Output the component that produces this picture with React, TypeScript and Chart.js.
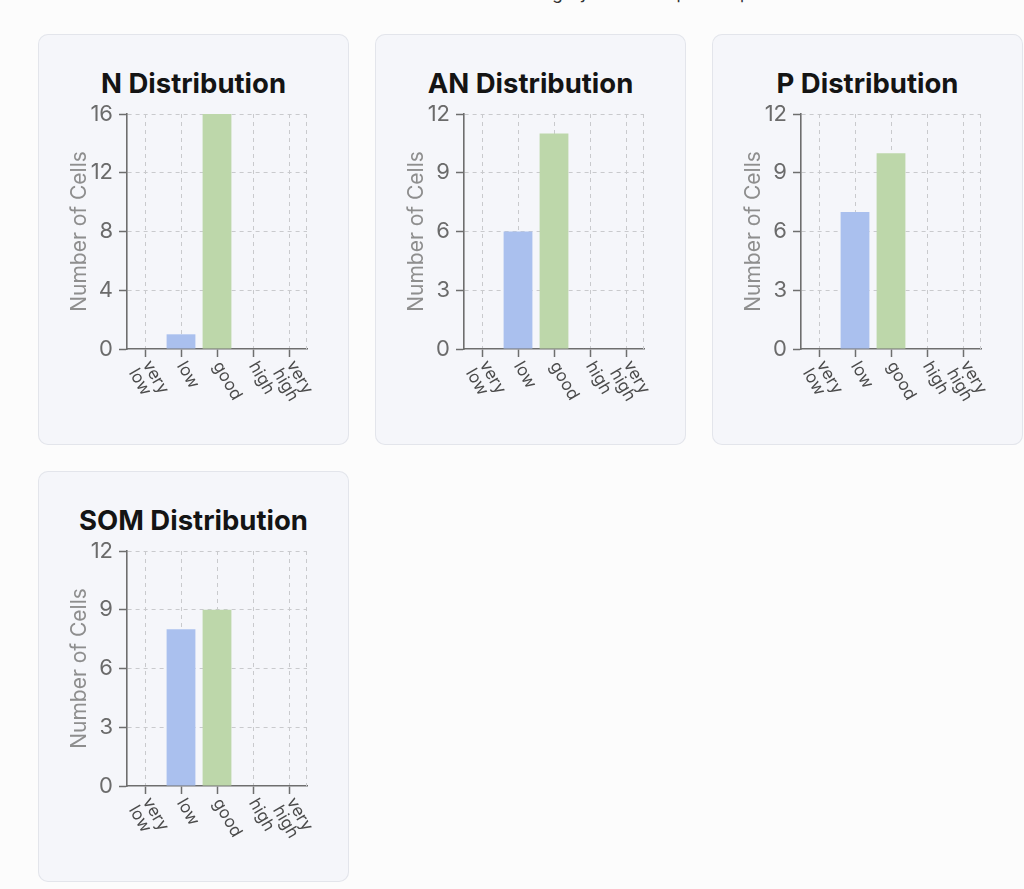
import React, { useEffect, useRef } from 'react';
import { Chart, registerables } from 'chart.js';

Chart.register(...registerables);
Chart.defaults.font.family = 'Inter, "Noto Sans", sans-serif';

// Category levels shared by every parameter (multi-line labels)
const categories: string[][] = [['very', 'low'], ['low'], ['good'], ['high'], ['very', 'high']];
const categoryColors = ['#e8a6a6', '#aac0ee', '#bdd7aa', '#f1d08e', '#d5aade'];

// Cell counts per category
const nCounts = [0, 1, 16, 0, 0];
const anCounts = [0, 6, 11, 0, 0];
const pCounts = [0, 7, 10, 0, 0];
const somCounts = [0, 8, 9, 0, 0];

// Panel titles and y-axis ranges
const panelTitles = ['N Distribution', 'AN Distribution', 'P Distribution', 'SOM Distribution'];
const yMaxes = [16, 12, 12, 12];
const ySteps = [4, 3, 3, 3];

const panelCounts = [nCounts, anCounts, pCounts, somCounts];

const AXIS = '#6e6e6e';
const GRID = '#c9cacd';
const DASH = [4, 4];

// Draws the slanted category labels under the x axis and closes the grid on the right.
const slantedLabels = {
  id: 'slantedLabels',
  beforeDatasetsDraw(chart: any) {
    const { ctx, chartArea } = chart;
    ctx.save();
    ctx.strokeStyle = GRID;
    ctx.lineWidth = 1;
    ctx.setLineDash(DASH);
    ctx.beginPath();
    ctx.moveTo(chartArea.right - 0.5, chartArea.top);
    ctx.lineTo(chartArea.right - 0.5, chartArea.bottom);
    ctx.stroke();
    ctx.restore();
  },
  afterDraw(chart: any) {
    const xScale = chart.scales.x;
    const ctx = chart.ctx as CanvasRenderingContext2D;
    const labels = chart.data.labels as (string | string[])[];
    const lineH = 16;
    ctx.save();
    ctx.font = '17px Inter, "Noto Sans", sans-serif';
    ctx.fillStyle = '#4b4b4b';
    ctx.textAlign = 'left';
    ctx.textBaseline = 'middle';
    labels.forEach((lab, i) => {
      const lines = Array.isArray(lab) ? lab : [lab];
      const px = xScale.getPixelForTick(i);
      const py = xScale.top + 8 + 6;
      ctx.save();
      ctx.translate(px, py);
      ctx.rotate(Math.PI / 3);
      lines.forEach((ln, j) => {
        const dy = (j - (lines.length - 1) / 2) * lineH + (lines.length - 1) * 6;
        ctx.fillText(ln, 0, dy);
      });
      ctx.restore();
    });
    ctx.restore();
  },
};

function DistributionChart({ counts, max, step }: { counts: number[]; max: number; step: number }) {
  const ref = useRef<HTMLCanvasElement | null>(null);

  useEffect(() => {
    if (!ref.current) return;
    const chart = new Chart(ref.current, {
      type: 'bar',
      data: {
        labels: categories,
        datasets: [
          {
            data: counts,
            backgroundColor: categoryColors,
            borderWidth: 0,
            barPercentage: 0.8,
            categoryPercentage: 1,
          },
        ],
      },
      options: {
        responsive: false,
        animation: false,
        layout: { padding: { top: 80, right: 42, bottom: 0, left: 0 } },
        plugins: {
          legend: { display: false },
          tooltip: { enabled: false },
          title: { display: false },
        },
        scales: {
          x: {
            type: 'category',
            offset: true,
            grid: {
              offset: false,
              color: GRID,
              tickColor: AXIS,
              tickLength: 8,
              tickWidth: 1.5,
              tickBorderDash: [],
            },
            border: { color: AXIS, width: 1.6, dash: DASH },
            ticks: { display: false },
            afterFit: (s: any) => {
              s.height = 96;
            },
          },
          y: {
            min: 0,
            max,
            grid: {
              color: (c: any) => (c.tick && c.tick.value === 0 ? 'rgba(0,0,0,0)' : GRID),
              tickColor: AXIS,
              tickLength: 8,
              tickWidth: 1.5,
              tickBorderDash: [],
            },
            border: { color: AXIS, width: 1.6, dash: DASH },
            ticks: {
              stepSize: step,
              color: '#6b6b6b',
              padding: 6,
              font: { size: 22 },
            },
            title: {
              display: true,
              text: 'Number of Cells',
              color: '#8e8e8e',
              font: { size: 21 },
              padding: { top: 29, bottom: 0 },
            },
            afterFit: (s: any) => {
              s.width = 89;
            },
          },
        },
      },
      plugins: [slantedLabels],
    });
    return () => chart.destroy();
  }, [counts, max, step]);

  return <canvas ref={ref} width={311} height={411} style={{ position: 'absolute', left: 0, top: 0 }} />;
}

const cardPositions = [
  { left: 38, top: 34 },
  { left: 375, top: 34 },
  { left: 712, top: 34 },
  { left: 38, top: 471 },
];

export default function App() {
  return (
    <div
      style={{
        position: 'fixed',
        left: 0,
        top: 0,
        width: 1024,
        height: 889,
        overflow: 'hidden',
        background: '#fcfcfc',
        fontFamily: 'Inter, "Noto Sans", sans-serif',
      }}
    >
      <div
        style={{
          position: 'absolute',
          left: 72,
          top: -17,
          fontSize: 17,
          lineHeight: '20px',
          color: '#333',
          whiteSpace: 'nowrap',
        }}
      >
        The bar charts below show the number of cells in each category for the respective parameters.
      </div>
      {panelTitles.map((title, i) => (
        <div
          key={title}
          style={{
            position: 'absolute',
            left: cardPositions[i].left,
            top: cardPositions[i].top,
            width: 311,
            height: 411,
            background: '#f5f6fa',
            borderRadius: 10,
            boxShadow: 'inset 0 0 0 1px #e3e5eb',
          }}
        >
          <div
            style={{
              position: 'absolute',
              left: 0,
              right: 0,
              top: 36,
              textAlign: 'center',
              fontSize: 27.5,
              lineHeight: '27px',
              fontWeight: 700,
              color: '#141414',
            }}
          >
            {title}
          </div>
          <DistributionChart counts={panelCounts[i]} max={yMaxes[i]} step={ySteps[i]} />
        </div>
      ))}
    </div>
  );
}
